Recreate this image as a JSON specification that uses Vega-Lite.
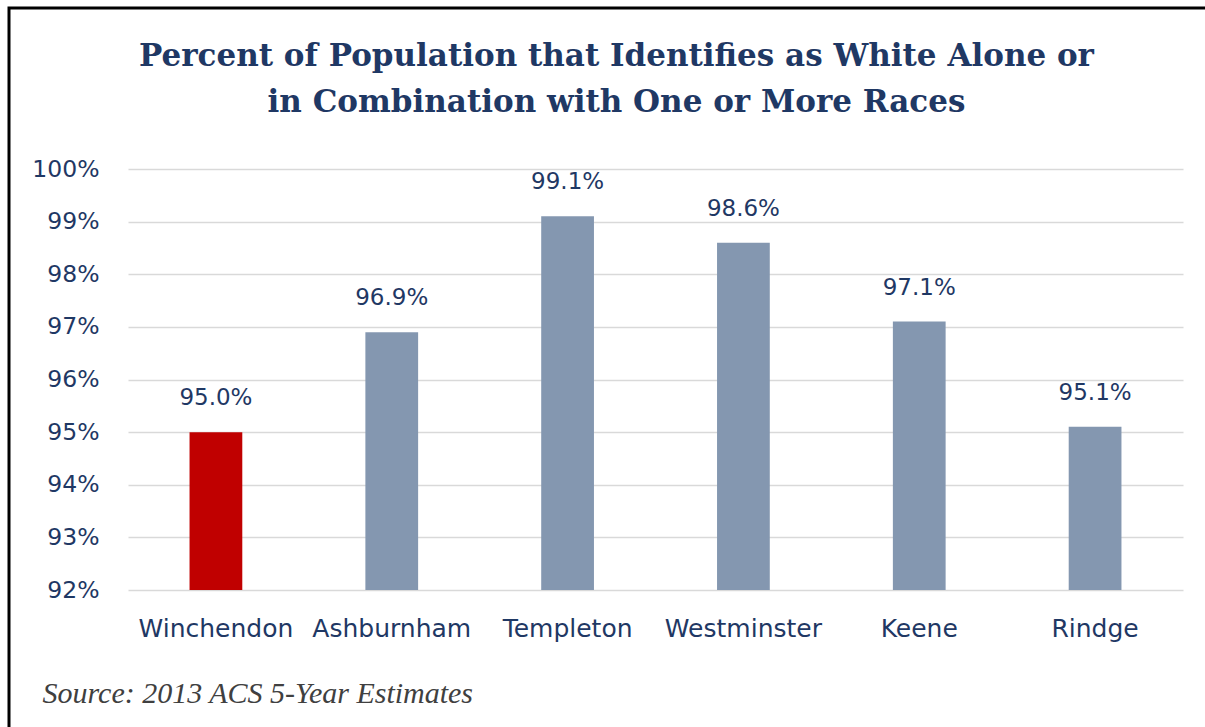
{
  "$schema": "https://vega.github.io/schema/vega-lite/v6.json",
  "width": 1215,
  "height": 740,
  "autosize": "none",
  "padding": {"left": 9, "top": 8, "right": 0, "bottom": 0},
  "background": "white",
  "title": {
    "text": ["Percent of Population that Identifies as White Alone or", "in Combination with One or More Races"],
    "font": "DejaVu Serif",
    "fontWeight": "bold",
    "fontSize": 31,
    "color": "#1F3864",
    "lineHeight": 46,
    "anchor": "middle",
    "frame": "group",
    "baseline": "top",
    "offset": -35,
    "dy": 76
  },
  "data": {
    "values": [
      {"town": "Winchendon", "pct": 0.950},
      {"town": "Ashburnham", "pct": 0.969},
      {"town": "Templeton", "pct": 0.991},
      {"town": "Westminster", "pct": 0.986},
      {"town": "Keene", "pct": 0.971},
      {"town": "Rindge", "pct": 0.951}
    ]
  },
  "encoding": {
    "x": {
      "field": "town",
      "type": "nominal",
      "sort": null,
      "scale": {"range": [119, 1174], "paddingInner": 0.7, "paddingOuter": 0.35},
      "axis": {
        "title": "Source: 2013 ACS 5-Year Estimates",
        "titleFont": "Liberation Serif",
        "titleFontStyle": "italic",
        "titleFontWeight": "normal",
        "titleFontSize": 30,
        "titleColor": "#404040",
        "titleAnchor": "start",
        "titleAlign": "left",
        "titleBaseline": "alphabetic",
        "titleX": 33,
        "titleY": 112,
        "offset": -158,
        "labelAngle": 0,
        "labelFont": "DejaVu Sans",
        "labelFontSize": 25,
        "labelColor": "#1F3864",
        "labelPadding": 26,
        "ticks": false,
        "tickSize": 0,
        "domain": false,
        "grid": false
      }
    },
    "y": {
      "field": "pct",
      "type": "quantitative",
      "scale": {"domain": [0.92, 1.0], "range": [582, 161], "zero": false, "nice": false},
      "axis": {
        "title": null,
        "format": ".0%",
        "values": [0.92, 0.93, 0.94, 0.95, 0.96, 0.97, 0.98, 0.99, 1.0],
        "offset": -119,
        "labelFont": "DejaVu Sans",
        "labelFontSize": 23.5,
        "labelColor": "#1F3864",
        "labelPadding": 29,
        "ticks": false,
        "tickSize": 0,
        "domain": false,
        "grid": true,
        "gridColor": "#D9D9D9",
        "gridWidth": 1.5
      }
    }
  },
  "layer": [
    {
      "mark": {"type": "bar"},
      "encoding": {
        "y2": {"datum": 0.92},
        "color": {
          "field": "town",
          "type": "nominal",
          "scale": {
            "domain": ["Winchendon", "Ashburnham", "Templeton", "Westminster", "Keene", "Rindge"],
            "range": ["#C00000", "#8497B0", "#8497B0", "#8497B0", "#8497B0", "#8497B0"]
          },
          "legend": null
        }
      }
    },
    {
      "mark": {"type": "text", "font": "DejaVu Sans", "fontSize": 23, "color": "#1F3864", "baseline": "alphabetic", "dy": -27},
      "encoding": {
        "text": {"field": "pct", "type": "quantitative", "format": ".1%"}
      }
    }
  ],
  "config": {
    "view": {"stroke": "#000000", "strokeWidth": 3}
  }
}
